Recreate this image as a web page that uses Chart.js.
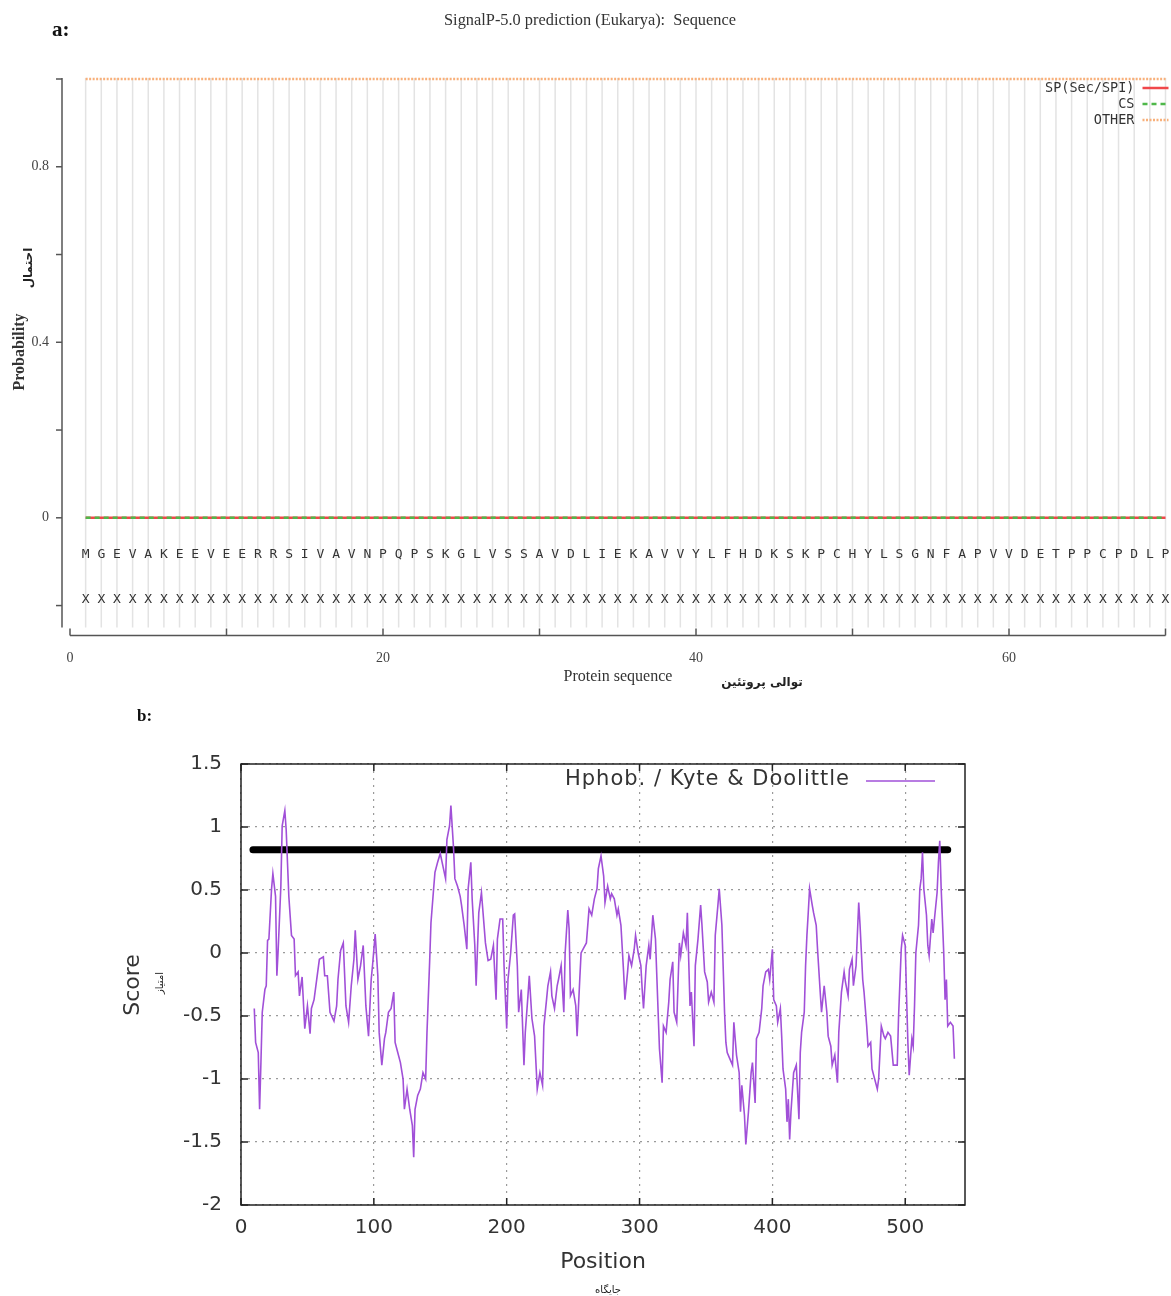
<!DOCTYPE html>
<html>
<head>
<meta charset="utf-8">
<script src="https://cdn.jsdelivr.net/npm/chart.js@4.4.1/dist/chart.umd.min.js"></script>
<style>
  body { margin: 0; background: #fff; }
  #wrap { position: relative; width: 1171px; height: 1296px; background: #fff; }
  #chartA { position: absolute; left: 0; top: 0; }
  #chartB { position: absolute; left: 0; top: 700px; }
</style>
</head>
<body>
<div id="wrap">
  <canvas id="chartA" width="1171" height="700"></canvas>
  <canvas id="chartB" width="1171" height="596"></canvas>
</div>
<script>
// ---- panel a: SignalP-5.0 data ----
const residues = 'MGEVAKEEVEERRSIVAVNPQPSKGLVSSAVDLIEKAVVYLFHDKSKPCHYLSGNFAPVVDETPPCPDLP'.split('')
const classRow = 'XXXXXXXXXXXXXXXXXXXXXXXXXXXXXXXXXXXXXXXXXXXXXXXXXXXXXXXXXXXXXXXXXXXXXX'.split('')
const spProb = [
  0, 0, 0, 0, 0, 0, 0, 0, 0, 0,
  0, 0, 0, 0, 0, 0, 0, 0, 0, 0,
  0, 0, 0, 0, 0, 0, 0, 0, 0, 0,
  0, 0, 0, 0, 0, 0, 0, 0, 0, 0,
  0, 0, 0, 0, 0, 0, 0, 0, 0, 0,
  0, 0, 0, 0, 0, 0, 0, 0, 0, 0,
  0, 0, 0, 0, 0, 0, 0, 0, 0, 0
]
const csProb = [
  0, 0, 0, 0, 0, 0, 0, 0, 0, 0,
  0, 0, 0, 0, 0, 0, 0, 0, 0, 0,
  0, 0, 0, 0, 0, 0, 0, 0, 0, 0,
  0, 0, 0, 0, 0, 0, 0, 0, 0, 0,
  0, 0, 0, 0, 0, 0, 0, 0, 0, 0,
  0, 0, 0, 0, 0, 0, 0, 0, 0, 0,
  0, 0, 0, 0, 0, 0, 0, 0, 0, 0
]
const otherProb = [
  1, 1, 1, 1, 1, 1, 1, 1, 1, 1,
  1, 1, 1, 1, 1, 1, 1, 1, 1, 1,
  1, 1, 1, 1, 1, 1, 1, 1, 1, 1,
  1, 1, 1, 1, 1, 1, 1, 1, 1, 1,
  1, 1, 1, 1, 1, 1, 1, 1, 1, 1,
  1, 1, 1, 1, 1, 1, 1, 1, 1, 1,
  1, 1, 1, 1, 1, 1, 1, 1, 1, 1
]
const aYTicks = [-0.2, 0, 0.2, 0.4, 0.6, 0.8, 1.0]
const aYLabels = [0, 0.4, 0.8]
const aXTicks = [0, 10, 20, 30, 40, 50, 60, 70]
const aXLabels = [0, 20, 40, 60]

// ---- panel b: Kyte & Doolittle hydrophobicity ----
const posX = [
  10, 11, 13, 14, 15, 16, 18, 19, 20, 21,
  23, 24, 26, 27, 28, 30, 31, 33, 34, 36,
  38, 40, 41, 43, 44, 46, 48, 50, 52, 53,
  55, 57, 59, 62, 63, 65, 67, 70, 72, 73,
  75, 77, 79, 81, 83, 85, 86, 88, 90, 92,
  94, 96, 98, 99, 101, 103, 104, 106, 108, 109,
  111, 113, 115, 116, 118, 120, 122, 123, 125, 127,
  129, 130, 131, 133, 135, 137, 139, 140, 142, 143,
  145, 146, 148, 150, 152, 154, 155, 157, 158, 160,
  161, 163, 165, 166, 168, 170, 171, 173, 174, 176,
  177, 179, 181,
  184, 186, 188, 190, 192, 193, 195, 197, 198, 200,
  201, 203, 205, 206, 208, 209, 211, 213, 214, 216,
  217, 219, 221, 222, 223, 225, 227, 228, 230, 231,
  233, 234, 236, 238, 239, 241, 243, 244, 246, 247,
  248, 250, 252, 253, 255, 256, 258, 260, 262, 264,
  266, 268, 269, 271, 273, 274, 276, 278, 279, 281,
  283, 284, 286, 288, 289, 291, 292, 294, 296, 297,
  299, 301, 302, 303, 305, 307, 308, 310, 312, 313,
  315, 317, 318, 320, 322, 323, 325, 326, 328, 330,
  331, 333, 335, 336, 338, 339, 341, 342, 344, 346,
  347, 349, 351, 352, 354, 356, 357, 359, 360, 362,
  364,
  365, 366, 368, 370, 371, 373, 375, 376, 377, 379,
  380, 382, 384, 385, 387, 388, 390, 392, 393, 395,
  397, 398, 400, 401, 403, 404, 406, 407, 408, 410,
  411, 412, 413, 414, 416, 418, 420, 421, 422, 424,
  425, 426, 427, 428, 430, 431, 433, 434, 436, 437,
  439, 441, 442, 444, 445, 447, 449, 450, 452, 454,
  455, 457, 458, 460, 461, 463, 465, 466, 468, 469,
  471, 472, 474, 475, 477, 479, 480, 482, 484, 485,
  487, 489, 491, 492, 494, 495, 497, 498, 500, 501,
  502, 503, 505, 506, 507, 508, 510, 511, 512, 513,
  514, 516, 517, 518, 520, 521, 522, 524, 525, 526,
  527, 529, 530, 531, 532, 534, 536, 537
]
const kdScore = [
  -0.44, -0.71, -0.79, -1.24, -0.87, -0.47, -0.29, -0.26, 0.10, 0.11,
  0.51, 0.63, 0.45, -0.18, 0.03, 0.53, 1.01, 1.13, 0.98, 0.45,
  0.14, 0.11, -0.18, -0.15, -0.34, -0.19, -0.60, -0.42, -0.64, -0.44,
  -0.37, -0.21, -0.05, -0.03, -0.18, -0.18, -0.47, -0.54, -0.42, -0.21,
  0.02, 0.08, -0.42, -0.55, -0.26, -0.05, 0.18, -0.21, -0.10, 0.06,
  -0.42, -0.66, -0.21, -0.10, 0.15, -0.18, -0.63, -0.89, -0.68, -0.63,
  -0.47, -0.44, -0.31, -0.71, -0.79, -0.87, -1.00, -1.24, -1.08, -1.24,
  -1.37, -1.62, -1.24, -1.13, -1.08, -0.95, -1.00, -0.63, -0.07, 0.24,
  0.51, 0.64, 0.72, 0.79, 0.69, 0.59, 0.90, 1.01, 1.17, 0.83,
  0.59, 0.53, 0.45, 0.38, 0.22, 0.03, 0.51, 0.72, 0.43, 0.06,
  -0.26, 0.32, 0.48,
  0.08, -0.06, -0.05, 0.06, -0.37, 0.11, 0.27, 0.27, -0.10, -0.60,
  -0.21, 0.00, 0.30, 0.31, -0.10, -0.47, -0.29, -0.89, -0.63, -0.34,
  -0.18, -0.52, -0.66, -0.87, -1.08, -0.95, -1.05, -0.58, -0.37, -0.26,
  -0.15, -0.34, -0.44, -0.26, -0.21, -0.10, -0.47, 0.00, 0.34, 0.19,
  -0.34, -0.29, -0.42, -0.66, -0.21, 0.00, 0.04, 0.08, 0.35, 0.30,
  0.43, 0.51, 0.67, 0.77, 0.61, 0.40, 0.53, 0.43, 0.47, 0.43,
  0.30, 0.35, 0.22, -0.15, -0.37, -0.15, -0.02, -0.10, 0.03, 0.14,
  0.00, -0.10, -0.29, -0.44, -0.10, 0.06, -0.05, 0.30, 0.11, -0.18,
  -0.76, -1.03, -0.58, -0.63, -0.39, -0.21, -0.07, -0.47, -0.55, 0.08,
  -0.02, 0.16, 0.06, 0.32, -0.42, -0.31, -0.74, -0.10, 0.11, 0.38,
  0.22, -0.15, -0.23, -0.39, -0.31, -0.39, 0.14, 0.38, 0.51, 0.22,
  -0.47,
  -0.71, -0.79, -0.84, -0.89, -0.55, -0.81, -0.95, -1.26, -1.05, -1.29,
  -1.52, -1.26, -0.95, -0.87, -1.19, -0.68, -0.63, -0.44, -0.26, -0.15,
  -0.13, -0.21, 0.03, -0.37, -0.42, -0.55, -0.44, -0.66, -0.92, -1.08,
  -1.34, -1.16, -1.48, -1.26, -0.95, -0.89, -1.32, -0.79, -0.63, -0.47,
  -0.10, 0.14, 0.32, 0.51, 0.38, 0.32, 0.22, 0.03, -0.31, -0.47,
  -0.26, -0.47, -0.66, -0.74, -0.89, -0.81, -1.03, -0.63, -0.31, -0.15,
  -0.23, -0.34, -0.13, -0.05, -0.26, -0.10, 0.40, 0.22, -0.21, -0.31,
  -0.58, -0.74, -0.71, -0.92, -1.00, -1.08, -1.00, -0.58, -0.66, -0.68,
  -0.63, -0.66, -0.89, -0.89, -0.89, -0.50, 0.03, 0.14, 0.06, -0.34,
  -0.71, -0.97, -0.68, -0.74, -0.42, 0.00, 0.22, 0.51, 0.59, 0.80,
  0.51, 0.30, 0.06, -0.02, 0.27, 0.16, 0.27, 0.48, 0.72, 0.89,
  0.53, 0.00, -0.37, -0.21, -0.58, -0.55, -0.58, -0.84
]
// thick black marker line drawn over the profile
const thresholdX = [9, 532]
const thresholdY = [0.82, 0.82]

// small helper for canvas text
function drawText(ctx, str, x, y, font, color, align, rot, maxW) {
    ctx.save()
    ctx.translate(x, y)
    if (rot) ctx.rotate(rot)
    ctx.font = font
    ctx.fillStyle = color
    ctx.textAlign = align || 'center'
    ctx.textBaseline = 'middle'
    if (maxW) ctx.fillText(str, 0, 0, maxW)
    else ctx.fillText(str, 0, 0)
    ctx.restore()
}

function line(ctx, x1, y1, x2, y2) {
    ctx.beginPath()
    ctx.moveTo(x1, y1)
    ctx.lineTo(x2, y2)
    ctx.stroke()
}

// Panel a drawing (axes are offset from the plot like SignalP's gnuplot output)
const panelAPlugin = {
    id: 'panelA',
    beforeDatasetsDraw(chart) {
        const { ctx, chartArea } = chart
        const x = chart.scales.x
        ctx.save()
        ctx.strokeStyle = '#e3e3e3'
        ctx.lineWidth = 1.5
        residues.forEach((r, i) => {
            const px = x.getPixelForValue(i + 1)
            line(ctx, px, chartArea.top - 1, px, chartArea.bottom)
        })
        ctx.restore()
    },
    afterDraw(chart) {
        const { ctx, chartArea } = chart
        const x = chart.scales.x
        const y = chart.scales.y
        ctx.save()

        // y axis
        const axX = chartArea.left - 8
        ctx.strokeStyle = '#555'
        ctx.lineWidth = 1.5
        line(ctx, axX, chartArea.top - 1, axX, chartArea.bottom)
        aYTicks.forEach(v => {
            const py = y.getPixelForValue(v)
            line(ctx, axX - 6, py, axX, py)
        })
        aYLabels.forEach(v => {
            drawText(ctx, String(v), axX - 13, y.getPixelForValue(v), '14px "Liberation Serif"', '#444', 'right')
        })

        // x axis
        const axY = chartArea.bottom + 8
        line(ctx, x.getPixelForValue(0), axY, x.getPixelForValue(70), axY)
        aXTicks.forEach(v => {
            const px = x.getPixelForValue(v)
            line(ctx, px, axY - 7, px, axY)
        })
        aXLabels.forEach(v => {
            drawText(ctx, String(v), x.getPixelForValue(v), axY + 23, '14px "Liberation Serif"', '#444', 'center')
        })

        // residue letters and class row
        residues.forEach((r, i) => {
            drawText(ctx, r, x.getPixelForValue(i + 1), y.getPixelForValue(-0.084), '13px "DejaVu Sans Mono"', '#333', 'center')
            drawText(ctx, classRow[i], x.getPixelForValue(i + 1), y.getPixelForValue(-0.187), '13px "DejaVu Sans Mono"', '#333', 'center')
        })

        // legend
        chart.data.datasets.forEach((ds, i) => {
            const ly = chartArea.top + 9 + i * 16
            drawText(ctx, ds.label, chartArea.right - 31, ly, '13.5px "DejaVu Sans Mono"', '#333', 'right')
            ctx.strokeStyle = ds.borderColor
            ctx.lineWidth = ds.borderWidth
            ctx.setLineDash(ds.borderDash || [])
            line(ctx, chartArea.right - 23, ly, chartArea.right + 3, ly)
            ctx.setLineDash([])
        })

        // titles
        drawText(ctx, 'a:', 52, 31, 'bold 21px "Liberation Serif"', '#111', 'left')
        drawText(ctx, 'SignalP-5.0 prediction (Eukarya):  Sequence', 590, 21, '17px "Liberation Serif"', '#333', 'center', 0, 292)
        drawText(ctx, 'Probability', 20, 352, 'bold 16px "Liberation Serif"', '#333', 'center', -Math.PI / 2, 84)
        drawText(ctx, 'احتمال', 29, 268, 'bold 12px "DejaVu Sans"', '#222', 'center', -Math.PI / 2)
        drawText(ctx, 'Protein sequence', 618, 677, '16px "Liberation Serif"', '#333', 'center', 0, 112)
        drawText(ctx, 'توالی پروتئین', 762, 683, 'bold 12px "DejaVu Sans"', '#222', 'center')
        ctx.restore()
    }
}

const pointsA = arr => arr.map((v, i) => ({ x: i + 1, y: v }))

new Chart(document.getElementById('chartA'), {
    type: 'line',
    data: {
        datasets: [
            { label: 'SP(Sec/SPI)', data: pointsA(spProb), borderColor: '#f0474a', borderWidth: 2.5, pointRadius: 0, clip: false, order: 2 },
            { label: 'CS', data: pointsA(csProb), borderColor: '#4fb84a', borderWidth: 2.5, borderDash: [5, 4], pointRadius: 0, clip: false, order: 1 },
            { label: 'OTHER', data: pointsA(otherProb), borderColor: '#f8b07a', borderWidth: 2.5, borderDash: [2, 1.5], pointRadius: 0, clip: false, order: 3 }
        ]
    },
    options: {
        responsive: false,
        animation: false,
        layout: { padding: { left: 70, right: 5.5, top: 79, bottom: 72.5 } },
        plugins: { legend: { display: false }, tooltip: { enabled: false } },
        scales: {
            x: { type: 'linear', min: 0, max: 70, display: false },
            y: { min: -0.25, max: 1.0, display: false }
        }
    },
    plugins: [panelAPlugin]
})

// Panel b drawing
const panelBPlugin = {
    id: 'panelB',
    afterDraw(chart) {
        const { ctx, chartArea } = chart
        const x = chart.scales.x
        const y = chart.scales.y
        ctx.save()
        ctx.strokeStyle = '#222'
        ctx.lineWidth = 1.5
        ctx.strokeRect(chartArea.left, chartArea.top, chartArea.right - chartArea.left, chartArea.bottom - chartArea.top)
        // inward ticks like gnuplot
        x.ticks.forEach(t => {
            const px = x.getPixelForValue(t.value)
            line(ctx, px, chartArea.bottom, px, chartArea.bottom - 7)
            line(ctx, px, chartArea.top, px, chartArea.top + 7)
        })
        y.ticks.forEach(t => {
            const py = y.getPixelForValue(t.value)
            line(ctx, chartArea.left, py, chartArea.left + 7, py)
            line(ctx, chartArea.right, py, chartArea.right - 7, py)
        })

        // legend
        const ds = chart.data.datasets[0]
        ctx.save()
        ctx.letterSpacing = '1px'
        drawText(ctx, ds.label, 850, 80, '21px "DejaVu Sans"', '#333', 'right')
        ctx.restore()
        ctx.strokeStyle = ds.borderColor
        ctx.lineWidth = ds.borderWidth
        line(ctx, 866, 81, 935, 81)

        drawText(ctx, 'b:', 137, 17, 'bold 17px "Liberation Serif"', '#111', 'left')
        drawText(ctx, 'Position', 603, 562, '22px "DejaVu Sans"', '#333', 'center')
        drawText(ctx, 'جایگاه', 608, 590, '10px "DejaVu Sans"', '#222', 'center')
        drawText(ctx, 'Score', 133, 285, '22px "DejaVu Sans"', '#333', 'center', -Math.PI / 2)
        drawText(ctx, 'امتیاز', 160, 283, '10px "DejaVu Sans"', '#222', 'center', -Math.PI / 2)
        ctx.restore()
    }
}

new Chart(document.getElementById('chartB'), {
    type: 'line',
    data: {
        datasets: [
            {
                label: 'Hphob. / Kyte & Doolittle',
                data: posX.map((p, i) => ({ x: p, y: kdScore[i] })),
                borderColor: '#a150d8',
                borderWidth: 1.6,
                pointRadius: 0,
                tension: 0
            },
            {
                label: 'marker',
                data: thresholdX.map((p, i) => ({ x: p, y: thresholdY[i] })),
                borderColor: '#000',
                borderWidth: 7,
                borderCapStyle: 'round',
                pointRadius: 0
            }
        ]
    },
    options: {
        responsive: false,
        animation: false,
        layout: { padding: { left: 0, right: 206, top: 64, bottom: 0 } },
        plugins: { legend: { display: false }, tooltip: { enabled: false } },
        scales: {
            x: {
                type: 'linear', min: 0, max: 545,
                afterFit(s) { s.height = 91 },
                ticks: { stepSize: 100, includeBounds: false, padding: 11, maxRotation: 0, color: '#333', font: { family: 'DejaVu Sans', size: 20 } },
                grid: { drawTicks: false, color: '#9a9a9a', lineWidth: 1.2 },
                border: { display: false, dash: [2, 5] }
            },
            y: {
                min: -2, max: 1.5,
                afterFit(s) { s.width = 241 },
                ticks: { stepSize: 0.5, padding: 19, color: '#333', font: { family: 'DejaVu Sans', size: 20 }, callback: v => String(v) },
                grid: { drawTicks: false, color: '#9a9a9a', lineWidth: 1.2 },
                border: { display: false, dash: [2, 5] }
            }
        }
    },
    plugins: [panelBPlugin]
})
</script>
</body>
</html>
